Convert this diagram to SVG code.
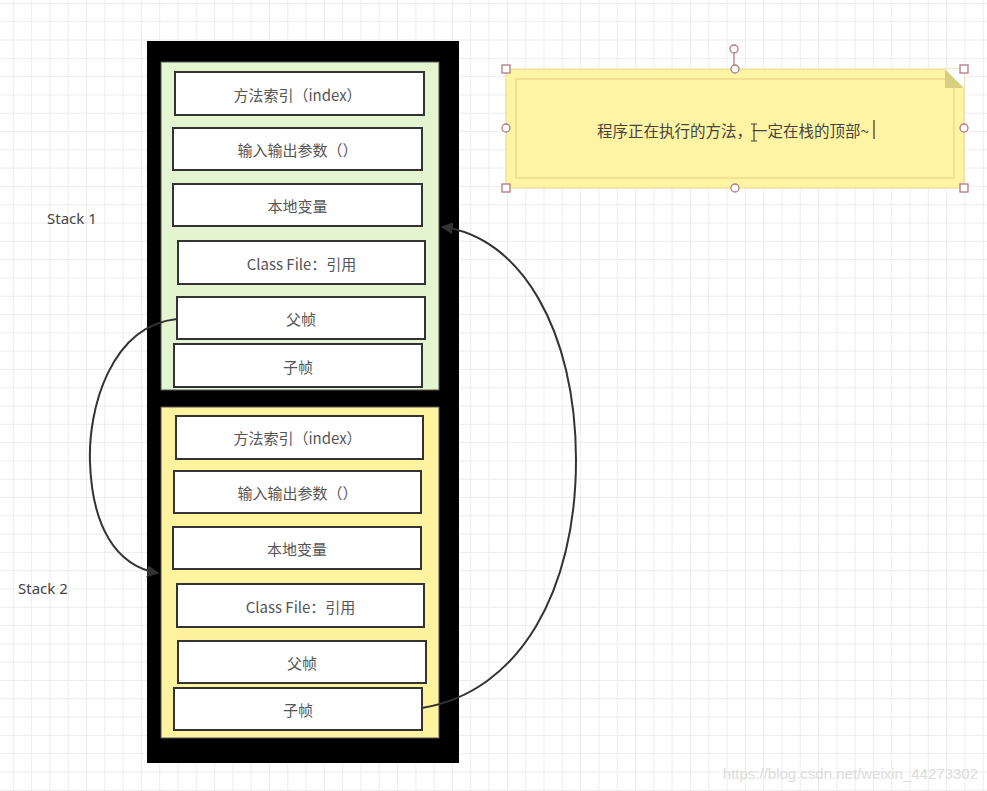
<svg xmlns="http://www.w3.org/2000/svg" width="987" height="791" viewBox="0 0 987 791">
  <defs>
    <pattern id="grid" x="12.8" y="2.9" width="18.3" height="18.3" patternUnits="userSpaceOnUse">
      <path d="M0,0.5 H18.3 M0.5,0 V18.3" fill="none" stroke="#ececec" stroke-width="1"/>
    </pattern>
    <marker id="arr" viewBox="0 0 10 10" refX="9" refY="5" markerWidth="12" markerHeight="12" markerUnits="userSpaceOnUse" orient="auto">
      <path d="M0,0 L10,5 L0,10 Z" fill="#333"/>
    </marker>
    <style>
      .box { fill: #ffffff; stroke: #333333; stroke-width: 2; }
      .t { font-family: "Noto Sans CJK SC", "Noto Sans", sans-serif; font-size: 15px; fill: #555555; text-anchor: middle; dominant-baseline: central; }
      .lbl { font-family: "Noto Sans", "Noto Sans CJK SC", sans-serif; font-size: 15px; fill: #444444; }
      .edge { fill: none; stroke: #333333; stroke-width: 2; }
      .h { fill: #ffffff; stroke: #b07a80; stroke-width: 1.3; }
    </style>
  </defs>
  <rect width="987" height="791" fill="#ffffff"/>
  <rect width="987" height="791" fill="url(#grid)"/>

  <g id="outer-stack">
    <rect x="147" y="41" width="312" height="722" fill="#000000"/>
  </g>

  <g id="stack1">
    <rect x="161" y="62" width="278" height="328" fill="#e4f5d2" stroke="#555" stroke-width="1"/>
    <text class="lbl" x="47" y="224">Stack 1</text>
  </g>
  <g id="stack2">
    <rect x="161" y="407" width="278" height="331" fill="#fff3a0" stroke="#555" stroke-width="1"/>
    <text class="lbl" x="18" y="594">Stack 2</text>
  </g>

  <g id="s1-index"><rect class="box" x="175" y="72" width="249" height="43"/><text class="t" x="297.5" y="94">方法索引（index）</text></g>
  <g id="s1-params"><rect class="box" x="173" y="128" width="249" height="42"/><text class="t" x="297.5" y="149">输入输出参数（）</text></g>
  <g id="s1-locals"><rect class="box" x="173" y="184" width="249" height="42"/><text class="t" x="297.5" y="205">本地变量</text></g>
  <g id="s1-classfile"><rect class="box" x="178" y="241" width="247" height="43"/><text class="t" x="301.5" y="263">Class File：引用</text></g>
  <g id="s1-parent"><rect class="box" x="177" y="297" width="248" height="42"/><text class="t" x="301" y="318">父帧</text></g>
  <g id="s1-child"><rect class="box" x="174" y="344" width="248" height="43"/><text class="t" x="298" y="366">子帧</text></g>

  <g id="s2-index"><rect class="box" x="176" y="416" width="247" height="43"/><text class="t" x="297.5" y="437">方法索引（index）</text></g>
  <g id="s2-params"><rect class="box" x="174" y="471" width="247" height="42"/><text class="t" x="297.5" y="492">输入输出参数（）</text></g>
  <g id="s2-locals"><rect class="box" x="173" y="527" width="248" height="42"/><text class="t" x="297" y="548">本地变量</text></g>
  <g id="s2-classfile"><rect class="box" x="177" y="584" width="247" height="43"/><text class="t" x="300.5" y="606">Class File：引用</text></g>
  <g id="s2-parent"><rect class="box" x="178" y="641" width="248" height="42"/><text class="t" x="302" y="662">父帧</text></g>
  <g id="s2-child"><rect class="box" x="174" y="688" width="248" height="42"/><text class="t" x="298" y="709">子帧</text></g>

  <g id="connectors">
    <path class="edge" d="M177,319 C110,326 88,410 90,462 C92,525 115,566 158,573" marker-end="url(#arr)"/>
    <path class="edge" d="M422,708 C520,692 576,590 576,460 C576,330 520,236 442,227" marker-end="url(#arr)"/>
  </g>

  <g id="note">
    <rect x="506" y="69" width="458" height="119" fill="#fff4a3" stroke="#e8d58a" stroke-width="1"/>
    <rect x="516" y="79" width="438" height="99" fill="none" stroke="#f0d890" stroke-width="1.5"/>
    <path d="M945,69 L964,88 L945,88 Z" fill="#d8cf80"/>
    <path d="M945,69 L964,69 L964,88 Z" fill="#ffffff"/>
    <text class="t" x="733" y="130" style="font-size:15.5px;fill:#444">程序正在执行的方法，一定在栈的顶部~</text>
    <line x1="874" y1="120" x2="874" y2="139" stroke="#333" stroke-width="1.2"/>
    <path d="M751,124 H757 M754,124 V141 M751,141 H757" fill="none" stroke="#444" stroke-width="1.2"/>
    <line x1="734" y1="53" x2="734" y2="69" stroke="#b07a80" stroke-width="1.3"/>
    <circle class="h" cx="734" cy="49" r="4"/>
    <rect class="h" x="502" y="65" width="8" height="8"/>
    <rect class="h" x="960" y="65" width="8" height="8"/>
    <rect class="h" x="502" y="184" width="8" height="8"/>
    <rect class="h" x="960" y="184" width="8" height="8"/>
    <circle class="h" cx="735" cy="69" r="4"/>
    <circle class="h" cx="735" cy="188" r="4"/>
    <circle class="h" cx="506" cy="128" r="4"/>
    <circle class="h" cx="964" cy="128" r="4"/>
  </g>

  <text x="978" y="779" text-anchor="end" font-family="Liberation Sans, Arial, sans-serif" font-size="15" fill="#dcdcdc">https://blog.csdn.net/weixin_44273302</text>
</svg>
